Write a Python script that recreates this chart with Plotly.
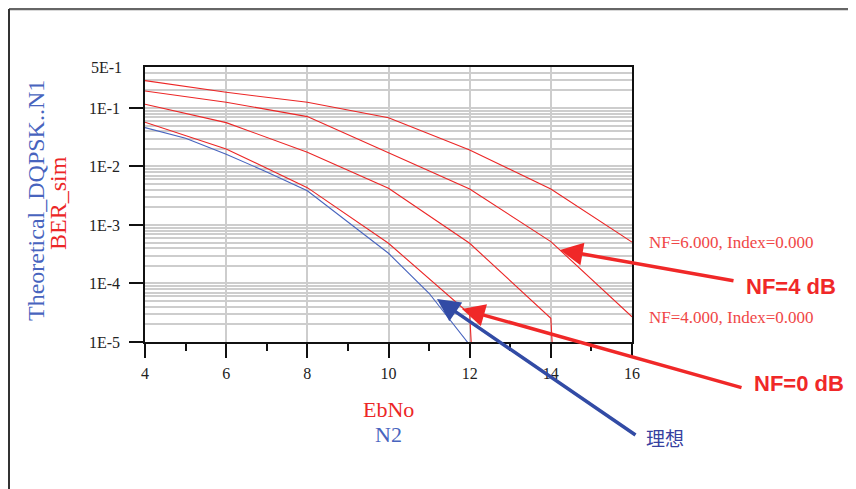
import math
import plotly.graph_objects as go

# ---------------- data ----------------
ebno_sim = [4, 6, 8, 10, 12, 14, 16]
ber_nf6 = [0.293, 0.185, 0.125, 0.068, 0.0191, 0.0041, 5.1e-4]
ber_nf4 = [0.195, 0.125, 0.071, 0.0173, 0.0041, 5.2e-4, 2.7e-5]
ber_nf2 = [0.1156, 0.056, 0.0175, 0.00423, 4.86e-4, 2.54e-5, 1e-30]
ber_nf0 = [0.057, 0.0199, 0.00434, 4.86e-4, 3.0e-5, 1e-30, 1e-30]

ebno_theory = [4, 5, 6, 7, 8, 9, 10, 11, 12]
ber_theory = [0.046, 0.0303, 0.0162, 0.00805, 0.00385, 0.00112, 3.28e-4, 6.8e-5, 8.9e-6]

x_ticks = [4, 6, 8, 10, 12, 14, 16]
y_ticks = [1e-5, 1e-4, 1e-3, 1e-2, 1e-1]
y_ticktext = ["1E-5", "1E-4", "1E-3", "1E-2", "1E-1"]
y_top_label = "5E-1"
y_top = 0.5

# ---------------- style / layout (page pixels; page has an 8px body margin) ----------------
OFF = 8
W, H = 856 - OFF, 489 - OFF
PL, PT, PR, PB = 145, 67, 632, 342          # plot area on the page
L, T = PL - OFF, PT - OFF
R, B = W - (PR - OFF), H - (PB - OFF)
PW, PH = PR - PL, PB - PT
RED = "rgb(236,38,38)"
BLUE = "rgb(72,100,190)"
SERIF = "Liberation Serif, Times New Roman, serif"
GRID = "#cdcdcd"


def px(xp):
    return (xp - PL) / PW


def py(yp):
    return (PB - yp) / PH


fig = go.Figure()
for ys in [ber_nf6, ber_nf4, ber_nf2, ber_nf0]:
    fig.add_trace(go.Scatter(x=ebno_sim, y=ys, mode="lines",
                             line=dict(color=RED, width=1.1)))
fig.add_trace(go.Scatter(x=ebno_theory, y=ber_theory, mode="lines",
                         line=dict(color=BLUE, width=1.1)))

minor_y = []
for d in range(-5, 0):
    for k in range(2, 10):
        v = k * 10 ** d
        if v < y_top:
            minor_y.append(v)

fig.update_layout(
    width=W, height=H,
    margin=dict(l=L, r=R, t=T, b=B),
    plot_bgcolor="white", paper_bgcolor="white",
    showlegend=False,
    xaxis=dict(
        range=[4, 16], tickmode="array", tickvals=x_ticks,
        ticks="outside", ticklen=14, tickwidth=1.5, tickcolor="#111",
        showline=True, linecolor="#111", linewidth=1.5, mirror=True,
        showgrid=True, gridcolor=GRID, gridwidth=1.5, zeroline=False,
        tickfont=dict(family=SERIF, size=16, color="#222"),
        ticklabelstandoff=2,
        minor=dict(tick0=4, dtick=1, ticks="outside", ticklen=7,
                   tickwidth=1.5, tickcolor="#111", showgrid=False),
    ),
    yaxis=dict(
        type="log", range=[-5, math.log10(y_top)],
        tickmode="array", tickvals=y_ticks, ticktext=y_ticktext,
        ticks="outside", ticklen=14, tickwidth=1.5, tickcolor="#111",
        showline=True, linecolor="#111", linewidth=1.5, mirror=True,
        showgrid=True, gridcolor=GRID, gridwidth=1.5, zeroline=False,
        tickfont=dict(family=SERIF, size=16, color="#222"),
        ticklabelstandoff=6,
        minor=dict(tickmode="array", tickvals=minor_y, ticks="",
                   showgrid=True, gridcolor=GRID, gridwidth=1.5),
    ),
)

ann = []
# top y label
ann.append(dict(text=y_top_label, xref="paper", yref="paper", x=px(124), y=1,
                xanchor="right", yanchor="middle", showarrow=False,
                font=dict(family=SERIF, size=16, color="#222")))
# y-axis titles
ann.append(dict(text="Theoretical_DQPSK..N1", xref="paper", yref="paper",
                x=px(36), y=py(201), textangle=-90, showarrow=False,
                xanchor="center", yanchor="middle",
                font=dict(family=SERIF, size=24, color=BLUE)))
ann.append(dict(text="BER_sim", xref="paper", yref="paper",
                x=px(58), y=py(203), textangle=-90, showarrow=False,
                xanchor="center", yanchor="middle",
                font=dict(family=SERIF, size=24, color=RED)))
# x-axis titles
ann.append(dict(text="EbNo", xref="paper", yref="paper", x=px(388), y=py(409),
                showarrow=False, xanchor="center", yanchor="middle",
                font=dict(family=SERIF, size=22, color=RED)))
ann.append(dict(text="N2", xref="paper", yref="paper", x=px(388), y=py(434),
                showarrow=False, xanchor="center", yanchor="middle",
                font=dict(family=SERIF, size=22, color=BLUE)))
# marker labels
ann.append(dict(text="NF=6.000, Index=0.000", xref="paper", yref="paper",
                x=px(647), y=py(242), showarrow=False, xanchor="left", yanchor="middle",
                font=dict(family=SERIF, size=17, color="rgb(240,70,70)")))
ann.append(dict(text="NF=4.000, Index=0.000", xref="paper", yref="paper",
                x=px(647), y=py(317), showarrow=False, xanchor="left", yanchor="middle",
                font=dict(family=SERIF, size=17, color="rgb(240,70,70)")))
# callouts
BIG = "Liberation Sans Narrow, Arial Narrow, Liberation Sans, Arial, sans-serif"
ann.append(dict(text="<b>NF=4 dB</b>", xref="paper", yref="paper",
                x=px(744), y=py(286), showarrow=False, xanchor="left", yanchor="middle",
                font=dict(family=BIG, size=22, color="rgb(240,40,40)")))
ann.append(dict(text="<b>NF=0 dB</b>", xref="paper", yref="paper",
                x=px(752), y=py(383), showarrow=False, xanchor="left", yanchor="middle",
                font=dict(family=BIG, size=22, color="rgb(240,40,40)")))
ann.append(dict(text="理想", xref="paper", yref="paper",
                x=px(644), y=py(437), showarrow=False, xanchor="left", yanchor="middle",
                font=dict(family="Noto Sans CJK SC", size=19, color="rgb(55,65,160)")))
# arrows (head, tail) in page pixels
for (hx, hy), (tx, ty), col in [
    ((560, 250), (735, 281), "rgb(240,40,40)"),
    ((462, 309), (743, 388), "rgb(240,40,40)"),
    ((437, 299), (637, 436), "rgb(50,75,165)"),
]:
    ann.append(dict(text="", xref="paper", yref="paper", x=px(hx), y=py(hy),
                    ax=tx - hx, ay=ty - hy, axref="pixel", ayref="pixel",
                    showarrow=True, arrowhead=2, arrowsize=1.3, arrowwidth=3.5,
                    arrowcolor=col, standoff=0))
fig.update_layout(annotations=ann)

# outer frame
FR = "#666666"
shapes = [
    dict(type="line", xref="paper", yref="paper", x0=px(9), y0=py(9), x1=px(855), y1=py(9),
         line=dict(color=FR, width=2.5)),
    dict(type="line", xref="paper", yref="paper", x0=px(9), y0=py(9), x1=px(9), y1=py(495),
         line=dict(color="#333", width=2)),
    dict(type="line", xref="paper", yref="paper", x0=px(854), y0=py(9), x1=px(854), y1=py(495),
         line=dict(color=FR, width=2.5)),
]
fig.update_layout(shapes=shapes)

fig.write_html("out.html")
